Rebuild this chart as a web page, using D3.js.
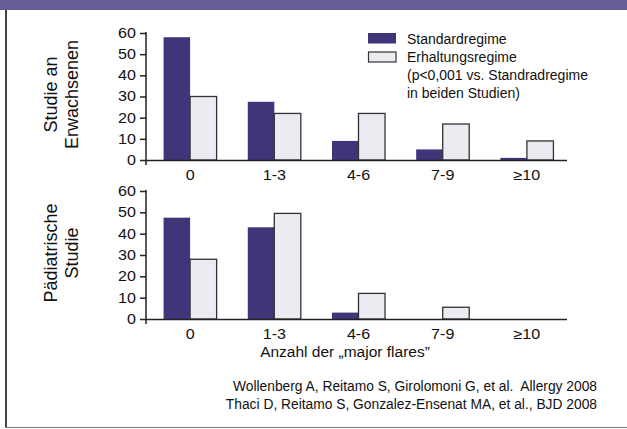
<!DOCTYPE html>
<html lang="de">
<head>
<meta charset="utf-8">
<title>Major flares</title>
<script src="https://cdn.jsdelivr.net/npm/d3@7/dist/d3.min.js"></script>
<style>
  body { margin: 0; background: #fff; }
  svg { display: block; font-family: "Liberation Sans", Arial, Helvetica, sans-serif; }
</style>
</head>
<body>
<svg id="chart"></svg>
<script>
// data
var categories = ["0", "1-3", "4-6", "7-9", "≥10"];
var seriesNames = ["Standardregime", "Erhaltungsregime"];
var adultStandard = [58, 27.5, 9, 5, 1];
var adultMaintenance = [30, 22, 22, 17, 9];
var childStandard = [47.5, 43, 3, 0, 0];
var childMaintenance = [28, 49.5, 12, 5.5, 0];
var yTicks = [0, 10, 20, 30, 40, 50, 60];

var width = 627, height = 429;
var colours = ["#3f3679", "#ebebf2"];

var svg = d3.select("#chart").attr("width", width).attr("height", height);

// frame
svg.append("rect").attr("x", 0).attr("y", 0).attr("width", width).attr("height", 10).attr("fill", "#675e99");
svg.append("line").attr("x1", 6).attr("x2", 6).attr("y1", 10).attr("y2", 428)
    .attr("stroke", "#444").attr("stroke-width", 2);
svg.append("line").attr("x1", 5).attr("x2", width).attr("y1", 427.5).attr("y2", 427.5)
    .attr("stroke", "#777").attr("stroke-width", 1);

var axisLeftX = 146, axisRightX = 567;
var x = d3.scaleBand().domain(categories).range([148, 569]).paddingInner(0.37).paddingOuter(0.185);
var xSub = d3.scaleBand().domain(seriesNames).range([0, x.bandwidth()]);

function panel(top, bottom, std, maint, label) {
    var y = d3.scaleLinear().domain([0, 60]).range([bottom, top]);
    var g = svg.append("g");

    var rows = categories.map(function(c, i) { return { cat: c, vals: [std[i], maint[i]] }; });
    var groups = g.selectAll(".grp").data(rows).enter().append("g")
        .attr("transform", function(d) { return "translate(" + x(d.cat) + ",0)"; });
    groups.selectAll("rect")
        .data(function(d) {
            return d.vals.map(function(v, k) { return { v: v, k: k }; })
                .filter(function(e) { return e.v > 0; });
        })
        .enter().append("rect")
        .attr("x", function(d) { return xSub(seriesNames[d.k]); })
        .attr("y", function(d) { return y(d.v); })
        .attr("width", xSub.bandwidth())
        .attr("height", function(d) { return y(0) - y(d.v); })
        .attr("fill", function(d) { return colours[d.k]; })
        .attr("stroke", function(d) { return d.k === 1 ? "#333" : "none"; })
        .attr("stroke-width", 1.3);

    var yAxis = g.append("g").attr("transform", "translate(" + axisLeftX + ",0)")
        .call(d3.axisLeft(y).tickValues(yTicks).tickSize(6).tickPadding(2.7));
    var xAxis = g.append("g").attr("transform", "translate(0," + bottom + ")")
        .call(d3.axisBottom(x).tickSize(0).tickPadding(10));
    xAxis.select(".domain").attr("d", "M" + axisLeftX + ",0.5H" + axisRightX);

    [yAxis, xAxis].forEach(function(a) {
        a.selectAll("path, line").attr("stroke", "#222").attr("stroke-width", 1.5);
        a.selectAll("text").attr("fill", "#111").style("font-size", "14px")
            .style("font-family", "'Liberation Sans', Arial, sans-serif")
            .attr("transform", "scale(1.15,1)");
    });
    xAxis.selectAll(".tick").each(function() {
        // keep labels centred on the tick while widened
        d3.select(this).select("text").attr("transform", "scale(1.15,1)");
    });
    yAxis.select(".domain").attr("d", "M0," + (top - 1) + "V" + (bottom + 5));

    var cy = (top + bottom) / 2 - 2;
    var t = g.append("g").attr("transform", "translate(0," + cy + ") rotate(-90)")
        .style("font-size", "18px").attr("fill", "#111").attr("text-anchor", "middle");
    t.append("text").attr("x", 0).attr("y", 57).text(label[0]);
    t.append("text").attr("x", 0).attr("y", 78).text(label[1]);
}

panel(33, 160, adultStandard, adultMaintenance, ["Studie an", "Erwachsenen"]);
panel(191, 319, childStandard, childMaintenance, ["Pädiatrische", "Studie"]);

// legend
var legend = svg.append("g").style("font-size", "14px").attr("fill", "#111");
legend.append("rect").attr("x", 368).attr("y", 33).attr("width", 28).attr("height", 10.5).attr("fill", colours[0]);
legend.append("rect").attr("x", 368.5).attr("y", 52).attr("width", 27.5).attr("height", 10)
    .attr("fill", colours[1]).attr("stroke", "#333").attr("stroke-width", 1.2);
var legendLines = [seriesNames[0], seriesNames[1], "(p<0,001 vs. Standradregime", "in beiden Studien)"];
legend.selectAll("text.lg").data(legendLines).enter().append("text")
    .attr("x", 407).attr("y", function(d, i) { return 43.5 + i * 18.2; }).text(function(d) { return d; });

// axis title
svg.append("text").attr("x", 345).attr("y", 357).attr("text-anchor", "middle")
    .style("font-size", "15.5px").attr("fill", "#111").text("Anzahl der „major flares”");

// references
var refs = ["Wollenberg A, Reitamo S, Girolomoni G, et al.  Allergy 2008",
            "Thaci D, Reitamo S, Gonzalez-Ensenat MA, et al., BJD 2008"];
svg.selectAll("text.ref").data(refs).enter().append("text")
    .attr("x", 597).attr("y", function(d, i) { return 391 + i * 18; })
    .attr("text-anchor", "end").style("font-size", "13.8px").attr("fill", "#111")
    .style("white-space", "pre").attr("xml:space", "preserve")
    .text(function(d) { return d; });
</script>
</body>
</html>
